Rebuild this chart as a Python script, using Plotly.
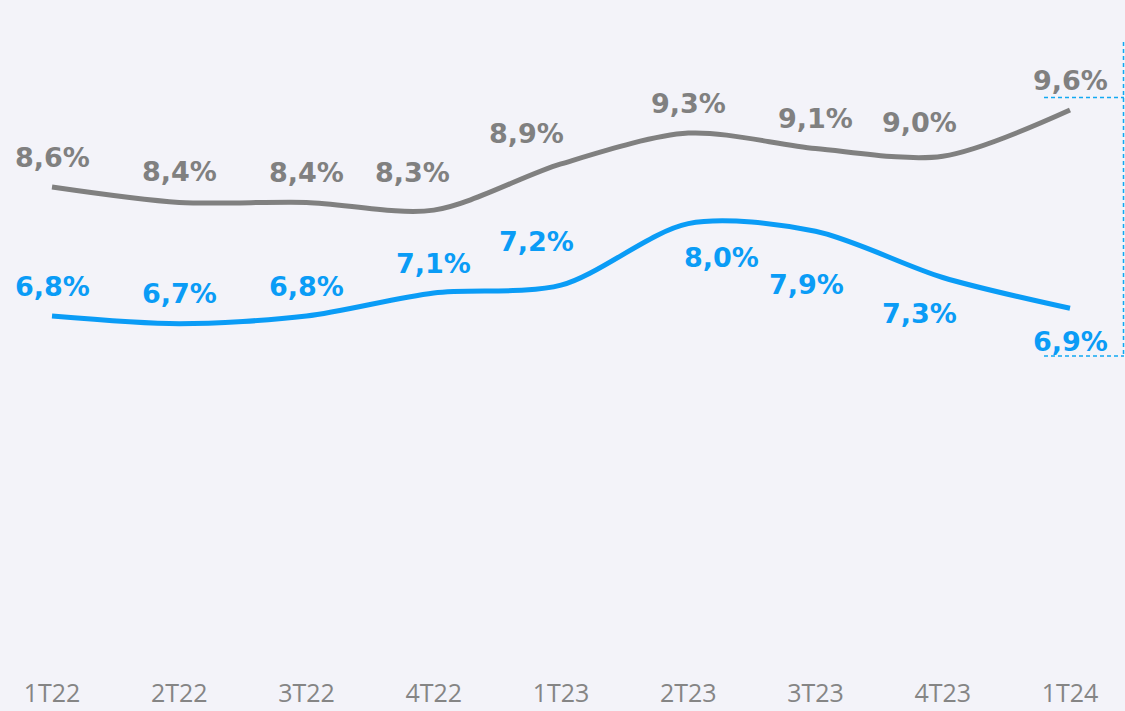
import plotly.graph_objects as go

categories = ["1T22", "2T22", "3T22", "4T22", "1T23", "2T23", "3T23", "4T23", "1T24"]
gray_values = [8.6, 8.4, 8.4, 8.3, 8.9, 9.3, 9.1, 9.0, 9.6]
blue_values = [6.8, 6.7, 6.8, 7.1, 7.2, 8.0, 7.9, 7.3, 6.9]
gray_labels = ["8,6%", "8,4%", "8,4%", "8,3%", "8,9%", "9,3%", "9,1%", "9,0%", "9,6%"]
blue_labels = ["6,8%", "6,7%", "6,8%", "7,1%", "7,2%", "8,0%", "7,9%", "7,3%", "6,9%"]

# label offsets (pixels) relative to each point
gray_dx = [0, 0, 0, -21, -35, 0, 0, -23, 0]
gray_dy = [30, 31, 30, 38, 30, 30, 30, 34, 30]
blue_dx = [0, 0, 0, 0, -25, 33, -9, -23, 0]
blue_dy = [30, 30, 30, 29, 44, -34, -53, -36, -33]

GRAY = "#808080"
BLUE = "#0a9cf6"
BG = "#f3f3f9"
FONT = "DejaVu Sans"

fig = go.Figure()
fig.add_trace(go.Scatter(x=categories, y=gray_values, mode="lines",
                         line=dict(color=GRAY, width=5, shape="spline", smoothing=0.85),
                         hoverinfo="skip"))
fig.add_trace(go.Scatter(x=categories, y=blue_values, mode="lines", yaxis="y2",
                         line=dict(color=BLUE, width=5, shape="spline", smoothing=0.85),
                         hoverinfo="skip"))

for i, c in enumerate(categories):
    fig.add_annotation(x=c, y=gray_values[i], text=gray_labels[i], showarrow=False,
                       xshift=gray_dx[i], yshift=gray_dy[i],
                       font=dict(family=FONT, size=27, color=GRAY, weight="bold"))
    fig.add_annotation(x=c, y=blue_values[i], yref="y2", text=blue_labels[i], showarrow=False,
                       xshift=blue_dx[i], yshift=blue_dy[i],
                       font=dict(family=FONT, size=27, color=BLUE, weight="bold"))

# dashed bracket on the right (decorative)
H = 711
PH = 670
def py(p):
    return 1 - p / PH
dash_line = dict(color="#12a9f2", width=1.5, dash="4px,3px")
fig.add_shape(type="line", xref="paper", yref="paper", x0=1123.5/1125, x1=1123.5/1125,
              y0=py(42), y1=py(356), line=dash_line)
fig.add_shape(type="line", xref="paper", yref="paper", x0=1044/1125, x1=1124/1125,
              y0=py(97.5), y1=py(97.5), line=dash_line)
fig.add_shape(type="line", xref="paper", yref="paper", x0=1044/1125, x1=1124/1125,
              y0=py(356), y1=py(356), line=dash_line)

ga = 849.2
gs = 77.0
ba = 839.6
fig.update_layout(
    width=1125, height=H,
    margin=dict(l=0, r=0, t=0, b=H - PH),
    paper_bgcolor=BG, plot_bgcolor=BG,
    showlegend=False,
    xaxis=dict(range=[-52/127.25, 8 + 55/127.25], showgrid=False, zeroline=False,
               showline=False, ticks="", ticklabelstandoff=6,
               tickfont=dict(family="Open Sans", size=25, color="#858585")),
    yaxis=dict(range=[(ga - PH)/gs, ga/gs], visible=False, fixedrange=True),
    yaxis2=dict(range=[(ba - PH)/gs, ba/gs], visible=False, overlaying="y", fixedrange=True),
)
fig.write_html("out.html", config={"displayModeBar": False},
               post_script="document.body.style.margin='0';document.body.style.background='%s';" % BG)
